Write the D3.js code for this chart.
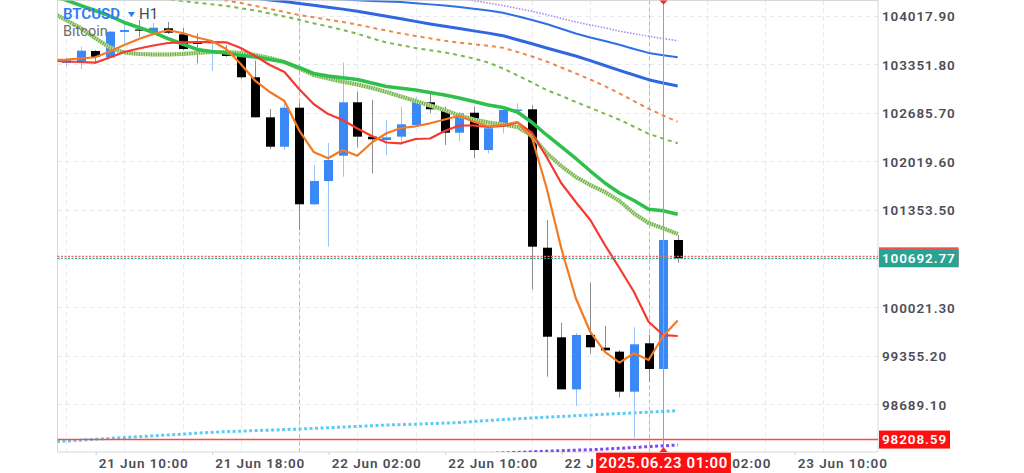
<!DOCTYPE html>
<html><head><meta charset="utf-8">
<script src="https://cdn.jsdelivr.net/npm/d3@7"></script>
<style>
html,body{margin:0;padding:0;background:#fff;}
svg{display:block;font-family:Roboto,"Noto Sans",sans-serif;}
</style></head>
<body>
<svg id="chart" width="1024" height="473"></svg>
<script>
// ---------- DATA ----------
const symbol = "BTCUSD", timeframe = "H1", description = "Bitcoin";
const firstCandle = "2025-06-21T08:00"; // hourly candles
const open  = [103370,103387,103534,103448,103795,103829,103777,103845,103763,103657,103644,103534,103479,103174,102625,102222,102757,101433,101752,102099,102831,102360,102314,102360,102520,102831,102725,102414,102688,102177,102506,102712,102735,100838,99610,98897,99642,99468,99413,98865,99528,99176,100944];
const high  = [103438,103593,103548,103808,103918,103959,103918,103932,103849,103777,103685,103616,103575,103401,102739,102821,102821,101972,102273,103374,102976,102863,102588,102771,102908,102976,102771,102702,102771,102520,102749,102817,102794,101218,99810,99669,100358,99765,99436,99747,99648,100957,101012];
const low   = [103328,103287,103356,103445,103644,103726,103767,103767,103548,103366,103264,103452,103150,102623,102191,102177,101081,101423,100852,101811,102214,101858,102109,102246,102513,102680,102246,102291,102063,102132,102406,102657,100268,99070,98895,98668,99388,99402,98788,98230,98997,99139,100633];
const close = [103411,103538,103452,103799,103822,103815,103853,103785,103561,103630,103657,103466,103174,102625,102222,102757,101433,101752,102040,102831,102360,102324,102351,102529,102839,102735,102414,102680,102177,102475,102725,102732,100852,99618,98897,99642,99473,99432,98865,99514,99176,100944,100692.77];

// indicator lines, hourly from 2025-06-21 07:00
const lineStart = "2025-06-21T07:00";
const maRed    = [103404,103390,103383,103374,103445,103520,103568,103609,103644,103653,103657,103657,103653,103575,103466,103342,103246,103013,102808,102670,102588,102472,102369,102280,102269,102328,102335,102437,102513,102513,102492,102506,102554,102410,102081,101725,101464,101218,100875,100560,100231,99824,99641,99628];
const maOrange = [103411,103417,103431,103448,103527,103616,103698,103767,103818,103781,103719,103671,103561,103356,103123,102972,102849,102451,102150,102063,102177,102099,102280,102406,102479,102502,102543,102595,102647,102565,102502,102520,102561,102342,101656,100834,100149,99683,99409,99262,99391,99299,99628,99840];
const maGreen  = [104288,104233,104158,104089,104014,103925,103856,103788,103705,103630,103555,103527,103507,103472,103452,103417,103383,103308,103226,103191,103167,103143,103095,103047,103023,102999,102965,102931,102890,102842,102794,102760,102698,102554,102383,102225,102061,101889,101725,101588,101485,101364,101345,101296];
const maGreenDotted = [104069,103959,103849,103712,103582,103513,103493,103486,103486,103493,103507,103520,103520,103507,103479,103438,103383,103294,103205,103157,103113,103075,103027,102972,102910,102849,102787,102725,102650,102595,102554,102527,102492,102369,102136,101958,101807,101697,101601,101478,101307,101177,101104,101026];
const maOrangeDash = [104706,104665,104625,104585,104546,104506,104466,104426,104387,104347,104306,104267,104226,104192,104151,104110,104069,104027,103996,103964,103932,103895,103855,103814,103774,103740,103707,103674,103649,103627,103605,103578,103520,103459,103390,103308,103228,103143,103052,102954,102846,102743,102650,102565];
const maGreenDash  = [104418,104398,104374,104351,104329,104307,104285,104263,104241,104219,104196,104174,104151,104121,104089,104048,104007,103962,103914,103870,103822,103770,103708,103651,103614,103575,103544,103515,103475,103431,103376,103294,103198,103102,102999,102920,102835,102756,102673,102592,102496,102399,102333,102269];
const maBlueLow  = [104592,104569,104544,104521,104496,104473,104450,104425,104402,104378,104354,104330,104306,104281,104258,104233,104211,104186,104160,104134,104108,104080,104045,104011,103977,103940,103905,103874,103842,103810,103779,103744,103689,103634,103575,103520,103466,103402,103335,103268,103205,103141,103095,103054];
const maBlueHigh = [104437,104428,104418,104408,104398,104388,104378,104369,104358,104348,104339,104329,104318,104308,104299,104288,104278,104269,104258,104248,104239,104229,104221,104212,104204,104189,104173,104158,104137,104112,104088,104059,104010,103960,103904,103838,103773,103720,103672,103619,103561,103508,103476,103448];
const maCyan = [98175,98189,98200,98212,98224,98237,98248,98260,98271,98283,98296,98307,98318,98324,98331,98338,98345,98353,98361,98371,98379,98389,98398,98408,98413,98420,98427,98434,98442,98456,98470,98482,98494,98505,98515,98525,98535,98545,98555,98564,98575,98585,98594,98604];
const purpleTopStart = "2025-06-22T09:00";
const maPurpleTop = [104326,104293,104259,104225,104191,104158,104117,104078,104032,103982,103932,103890,103852,103805,103770,103736,103704,103675];
const purpleBottomStart = "2025-06-22T12:00";
const maPurpleBottom = [98006,98017,98026,98032,98041,98049,98056,98063,98069,98078,98089,98100,98112,98123,98134];

const priceTicks = [98689.10,99355.20,100021.30,101353.50,102019.60,102685.70,103351.80,104017.90];
const gridPrices = [98689.10,99355.20,100021.30,100687.40,101353.50,102019.60,102685.70,103351.80,104017.90];
const timeTicks = ["2025-06-21T10:00","2025-06-21T18:00","2025-06-22T02:00","2025-06-22T10:00","2025-06-22T18:00","2025-06-23T02:00","2025-06-23T10:00"];
const daySeparators = ["2025-06-22T00:00","2025-06-23T00:00"];
const bidPrice = 100692.77, askPrice = 100720, levelPrice = 98208.59;
const crosshairTime = "2025-06-23T01:00";

// ---------- SETUP ----------
const parse = d3.utcParse("%Y-%m-%dT%H:%M");
const L = 57.5, R = 878, T = 0.5, B = 452;
const x = d3.scaleUtc().domain([parse("2025-06-21T08:00"), parse("2025-06-23T02:00")]).range([66, 677.7]);
const y = d3.scaleLinear().domain([98038, 104233]).range([452, 0]);

const svg = d3.select("#chart");
svg.append("defs").append("clipPath").attr("id","plot")
  .append("rect").attr("x",L).attr("y",T).attr("width",R-L).attr("height",B-T);

const hours = (start, n) => d3.range(n).map(i => d3.utcHour.offset(parse(start), i));

// grid
const grid = svg.append("g").attr("clip-path","url(#plot)");
const gridTimes = d3.utcHour.every(4).range(parse("2025-06-21T06:00"), parse("2025-06-23T16:00"));
grid.selectAll("line.v").data(gridTimes).join("line")
  .attr("x1",d=>Math.round(x(d))+0.5).attr("x2",d=>Math.round(x(d))+0.5).attr("y1",T).attr("y2",B)
  .attr("stroke","#e3e8ef").attr("stroke-dasharray","4,4");
grid.selectAll("line.h").data(gridPrices).join("line")
  .attr("x1",L).attr("x2",R).attr("y1",d=>Math.round(y(d))+0.5).attr("y2",d=>Math.round(y(d))+0.5)
  .attr("stroke","#e3e8ef").attr("stroke-dasharray","4,4");
grid.selectAll("line.d").data(daySeparators).join("line")
  .attr("x1",d=>Math.round(x(parse(d)))+0.5).attr("x2",d=>Math.round(x(parse(d)))+0.5).attr("y1",T).attr("y2",B)
  .attr("stroke","#b8b8b8").attr("stroke-dasharray","4,3");

// plot frame
svg.append("rect").attr("x",L).attr("y",T).attr("width",R-L).attr("height",B-T)
  .attr("fill","none").attr("stroke","#d9d9d9");

const plot = svg.append("g").attr("clip-path","url(#plot)");
const lineGen = d3.line().x(d=>x(d.t)).y(d=>y(d.v)).curve(d3.curveLinear);
function series(start, vals){ const ts = hours(start, vals.length); return vals.map((v,i)=>({t:ts[i],v})); }
function drawLine(start, vals, color, width, dash){
  return plot.append("path").datum(series(start, vals)).attr("d", lineGen)
    .attr("fill","none").attr("stroke",color).attr("stroke-width",width)
    .attr("stroke-dasharray",dash||null).attr("stroke-linejoin","round");
}

// slow / background lines
drawLine(lineStart, maCyan, "#5ccdf2", 3, "3,2.5");
drawLine(purpleBottomStart, maPurpleBottom, "#7c4dee", 3, "3,2.5");
drawLine(purpleTopStart, maPurpleTop, "#a982f0", 1.5, "1.5,1.5");
drawLine(lineStart, maBlueHigh, "#2f6fe6", 2);
drawLine(lineStart, maBlueLow, "#2f67e0", 3);
drawLine(lineStart, maOrangeDash, "#f0874a", 2, "4,4");
drawLine(lineStart, maGreenDash, "#79b84d", 2, "4,4");

// candles
const candleTimes = hours(firstCandle, open.length);
const candles = candleTimes.map((t,i)=>({t,o:open[i],h:high[i],l:low[i],c:close[i]}));
const bw = 9;
const cg = plot.append("g");
cg.selectAll("line").data(candles).join("line")
  .attr("x1",d=>Math.round(x(d.t))+0.5).attr("x2",d=>Math.round(x(d.t))+0.5)
  .attr("y1",d=>y(d.h)).attr("y2",d=>y(d.l))
  .attr("stroke",d=>d.c>=d.o?"#9cc2fa":"#8c8c8c").attr("stroke-width",1);
cg.selectAll("rect").data(candles).join("rect")
  .attr("x",d=>Math.round(x(d.t))+0.5-bw/2).attr("width",bw)
  .attr("y",d=>y(Math.max(d.o,d.c))).attr("height",d=>Math.max(1.2, Math.abs(y(d.o)-y(d.c))))
  .attr("fill",d=>d.c>=d.o?"#3b88f7":"#000");

// fast MAs on top
drawLine(lineStart, maGreenDotted, "#c4e2ab", 4);
drawLine(lineStart, maGreenDotted, "#6fae45", 4, "1.2,1.2");
drawLine(lineStart, maGreen, "#2fbf4d", 3.5);
drawLine(lineStart, maRed, "#f5392f", 2.2);
drawLine(lineStart, maOrange, "#f27a25", 2.2);

// price lines
svg.append("line").attr("x1",L).attr("x2",R).attr("y1",y(askPrice)).attr("y2",y(askPrice))
  .attr("stroke","#f06a6a").attr("stroke-width",1.3).attr("stroke-dasharray","2,1.5");
svg.append("line").attr("x1",L).attr("x2",R).attr("y1",y(bidPrice)).attr("y2",y(bidPrice))
  .attr("stroke","#2aa596").attr("stroke-width",1.3).attr("stroke-dasharray","2,1.5");
svg.append("line").attr("x1",L).attr("x2",R).attr("y1",y(levelPrice)).attr("y2",y(levelPrice))
  .attr("stroke","#fa4a4a").attr("stroke-width",1.6);

// crosshair
const cx = Math.round(x(parse(crosshairTime)))+0.5;
svg.append("line").attr("x1",cx).attr("x2",cx).attr("y1",T).attr("y2",B)
  .attr("stroke","#f27c7c").attr("stroke-width",1);
svg.append("path").attr("d",`M${cx-4},${T} L${cx+4},${T} L${cx},${T+4} Z`).attr("fill","#f02a2a");
svg.append("path").attr("d",`M${cx-4},${B} L${cx+4},${B} L${cx},${B-5} Z`).attr("fill","#f02a2a");

// axes
const fontAxis = {size:"13.5px", weight:600, color:"#4c4d57", ls:"0.9px"};
const yAxis = d3.axisRight(y).tickValues(priceTicks).tickFormat(d3.format(".2f")).tickSize(0).tickPadding(0);
const gy = svg.append("g").attr("transform",`translate(882,0)`).call(yAxis);
gy.select(".domain").remove();
gy.selectAll("text").attr("font-family","Roboto").attr("font-size",fontAxis.size).attr("font-weight",fontAxis.weight)
  .attr("fill",fontAxis.color).attr("letter-spacing",fontAxis.ls).attr("dy","0.35em");

const xAxis = d3.axisBottom(x).tickValues(timeTicks.map(parse)).tickFormat(d3.utcFormat("%d %b %H:%M")).tickSize(3).tickPadding(0);
const gx = svg.append("g").attr("transform",`translate(0,${B})`).call(xAxis);
gx.select(".domain").remove();
gx.selectAll(".tick line").attr("stroke","#cfcfcf").attr("transform","translate(0.5,0)");
gx.selectAll("text").attr("text-anchor","start").attr("x",3).attr("y",16).attr("dy",0)
  .attr("font-family","Roboto").attr("font-size",fontAxis.size).attr("font-weight",fontAxis.weight)
  .attr("fill",fontAxis.color).attr("letter-spacing",fontAxis.ls);

// time label (crosshair) box — hides the part of the axis labels behind it
const timeText = d3.utcFormat("%Y.%m.%d %H:%M")(parse(crosshairTime));
const tg = svg.append("g");
const tt = tg.append("text").attr("x",cx).attr("y",468).attr("text-anchor","middle")
  .attr("font-family","Roboto").attr("font-size","15px").attr("font-weight",600).attr("letter-spacing","0.6px")
  .attr("fill","#fff").text(timeText);
const tw = tt.node().getComputedTextLength();
const boxL = cx-tw/2-3, boxR = cx+tw/2+3;
tg.insert("rect","text").attr("x",boxL).attr("y",452.7).attr("width",boxR-boxL).attr("height",20.3).attr("fill","#ff0f0f");

// trim axis labels to the part that stays visible beside the box
const tol = 4;
gx.selectAll(".tick").each(function(d){
  const tx = x(d), t = d3.select(this).select("text");
  const full = t.text();
  const node = t.node();
  const x0 = tx + 3, w = node.getComputedTextLength(), x1 = x0 + w;
  if (x1 <= boxL || x0 >= boxR) return;
  if (x0 < boxL) {
    let n = full.length;
    while (n > 0) { t.text(full.slice(0,n)); if (x0 + node.getComputedTextLength() <= boxL + tol) break; n--; }
  } else {
    let n = full.length;
    while (n > 0) {
      t.text(full.slice(full.length-n));
      const wn = node.getComputedTextLength();
      if (x1 - wn >= boxR - tol) { t.attr("x", 3 + w - wn); break; }
      n--;
    }
  }
});
svg.node().appendChild(tg.node());

// price labels
function priceLabel(p, fill, txt, minW){
  const yy = y(p);
  const g = svg.append("g");
  const t = g.append("text").attr("x",882).attr("y",yy).attr("dy","0.35em").text(txt)
    .attr("font-family","Roboto").attr("font-size",fontAxis.size).attr("font-weight",fontAxis.weight)
    .attr("letter-spacing",fontAxis.ls).attr("fill","#fff");
  const w = Math.max(minW||0, t.node().getComputedTextLength()+6);
  g.insert("rect","text").attr("x",879).attr("y",yy-9).attr("width",w).attr("height",18).attr("fill",fill);
  return w;
}
const bidW = (() => { const t = svg.append("text").attr("font-family","Roboto").attr("font-size",fontAxis.size)
  .attr("font-weight",fontAxis.weight).attr("letter-spacing",fontAxis.ls).text(d3.format(".2f")(bidPrice));
  const w = t.node().getComputedTextLength()+6; t.remove(); return w; })();
priceLabel(askPrice, "#f05050", "", bidW);
priceLabel(bidPrice, "#2ba393", d3.format(".2f")(bidPrice));
priceLabel(levelPrice, "#ff0f0f", d3.format(".2f")(levelPrice));

// legend
const lg = svg.append("g");
lg.append("text").attr("x",63).attr("y",18.5).attr("font-family","Roboto").attr("font-size","15px").attr("font-weight",600)
  .attr("fill","#2d7cf6").text(symbol);
lg.append("path").attr("d","M128,12 L135,12 L131.5,17 Z").attr("fill","#2d7cf6");
lg.append("text").attr("x",139).attr("y",18.5).attr("font-family","Roboto").attr("font-size","15px")
  .attr("fill","#4a4a4a").text(timeframe);
lg.append("text").attr("x",63).attr("y",36).attr("font-family","Roboto").attr("font-size","14.5px")
  .attr("fill","#6e6e6e").text(description);
</script>
</body></html>
